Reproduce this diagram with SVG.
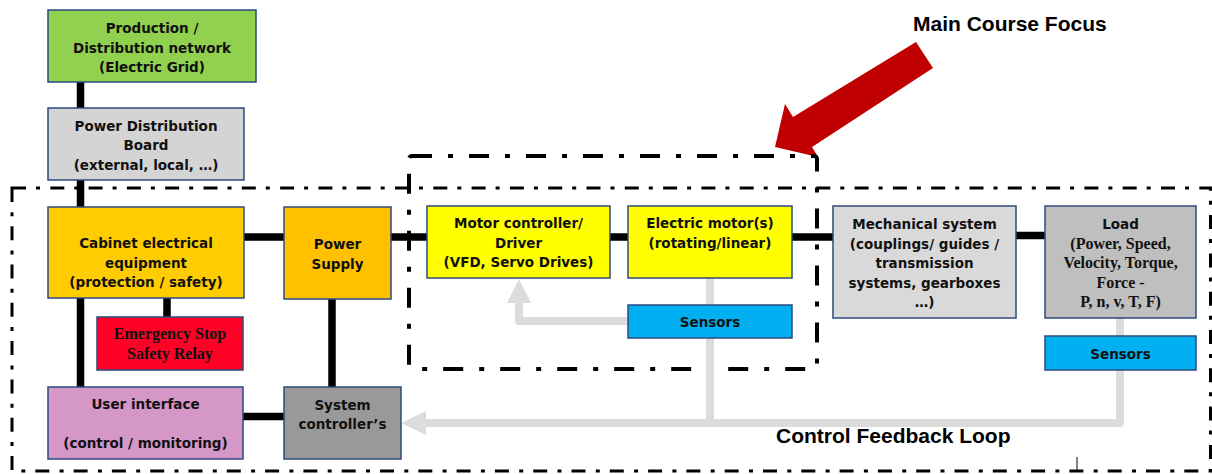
<svg xmlns="http://www.w3.org/2000/svg" width="1212" height="474" viewBox="0 0 1212 474">
<style>
.box{stroke:#2E4A7D;stroke-width:1.5}
.t{font-family:"DejaVu Sans",Verdana,sans-serif;font-weight:bold;font-size:13.5px;fill:#111;text-anchor:middle}
.s{font-family:"Liberation Serif","Times New Roman",serif;font-weight:bold;font-size:16px;fill:#111;text-anchor:middle}
.big{font-family:"Liberation Sans",Arial,sans-serif;font-weight:bold;font-size:21px;fill:#000}
.pw{stroke:#000;stroke-width:7.5;fill:none}
.fb{stroke:#DCDCDC;stroke-width:8;fill:none;stroke-linejoin:round}
.fbh{fill:#DCDCDC}
.outer{fill:none;stroke:#000;stroke-width:3;stroke-dasharray:14 10 4 10.3}
.inner{fill:none;stroke:#000;stroke-width:4;stroke-dasharray:20 16 5 16}
</style>
<rect width="1212" height="474" fill="#fff"/>
<g id="focus-arrow">
<polygon points="916,42 933,68 812,147 818,157 775,147 785,104 793,117" fill="#C00000"/>
</g>
<g id="frames">
<rect class="outer" x="12" y="188" width="1198.5" height="283"/>
<rect class="inner" x="409" y="156" width="408" height="213" rx="3"/>
<line x1="1077" y1="457" x2="1077" y2="470" stroke="#000" stroke-width="1"/>
</g>
<g id="connectors">
<path class="pw" d="M80.5,82 V108 M80.5,180 V207 M80.5,298 V387 M167,298 V317 M244,237 H284 M391,237 H427 M610,237 H628 M792,237 H833 M1016,235.5 H1045 M332,299 V387 M243,416.5 H284"/>
<path class="fb" d="M628,321 H519 V303"/>
<polygon class="fbh" points="507,303 531,303 519,279"/>
<path class="fb" d="M710,278 V423"/>
<path class="fb" d="M1120,318 V423 H426"/>
<polygon class="fbh" points="426,411 426,435 401,423"/>
</g>
<g id="grid">
<rect class="box" x="48" y="10" width="208" height="72" fill="#92D050"/>
<text class="t" x="152" y="33">Production /</text>
<text class="t" x="152" y="52.5">Distribution network</text>
<text class="t" x="152" y="72">(Electric Grid)</text>
</g>
<g id="pdb">
<rect class="box" x="48" y="108" width="196" height="72" fill="#D4D4D4"/>
<text class="t" x="146" y="130.5">Power Distribution</text>
<text class="t" x="146" y="150">Board</text>
<text class="t" x="146" y="169.5">(external, local, …)</text>
</g>
<g id="cabinet">
<rect class="box" x="48" y="207" width="196" height="91" fill="#FFCC00"/>
<text class="t" x="146" y="248">Cabinet electrical</text>
<text class="t" x="146" y="267.5">equipment</text>
<text class="t" x="146" y="287">(protection / safety)</text>
</g>
<g id="power-supply">
<rect class="box" x="284" y="207" width="107" height="92" fill="#FFC000"/>
<text class="t" x="337.5" y="249">Power</text>
<text class="t" x="337.5" y="268.5">Supply</text>
</g>
<g id="emergency-stop">
<rect class="box" x="97" y="317" width="146" height="53" fill="#FF0026"/>
<text class="s" x="170" y="339">Emergency Stop</text>
<text class="s" x="170" y="359">Safety Relay</text>
</g>
<g id="user-interface">
<rect class="box" x="48" y="387" width="195" height="72" fill="#D596C8"/>
<text class="t" x="145.5" y="409">User interface</text>
<text class="t" x="145.5" y="448">(control / monitoring)</text>
</g>
<g id="system-controller">
<rect class="box" x="284" y="387" width="117" height="72" fill="#999999"/>
<text class="t" x="342.5" y="410">System</text>
<text class="t" x="342.5" y="429">controller’s</text>
</g>
<g id="motor-controller">
<rect class="box" x="427" y="206" width="183" height="72" fill="#FFFF00"/>
<text class="t" x="518.5" y="228">Motor controller/</text>
<text class="t" x="518.5" y="247.5">Driver</text>
<text class="t" x="518.5" y="267">(VFD, Servo Drives)</text>
</g>
<g id="electric-motor">
<rect class="box" x="628" y="206" width="164" height="72" fill="#FFFF00"/>
<text class="t" x="710" y="228">Electric motor(s)</text>
<text class="t" x="710" y="247.5">(rotating/linear)</text>
</g>
<g id="sensors-motor">
<rect class="box" x="628" y="305" width="164" height="33" fill="#00B0F0"/>
<text class="t" x="710" y="327">Sensors</text>
</g>
<g id="mechanical">
<rect class="box" x="833" y="206" width="183" height="112" fill="#D9D9D9"/>
<text class="t" x="924.5" y="229">Mechanical system</text>
<text class="t" x="924.5" y="248.5">(couplings/ guides /</text>
<text class="t" x="924.5" y="268">transmission</text>
<text class="t" x="924.5" y="287.5">systems, gearboxes</text>
<text class="t" x="924.5" y="307">…)</text>
</g>
<g id="load">
<rect class="box" x="1045" y="206" width="151" height="112" fill="#BFBFBF"/>
<text class="t" x="1120.5" y="229">Load</text>
<text class="s" x="1120.5" y="249">(Power, Speed,</text>
<text class="s" x="1120.5" y="268">Velocity, Torque,</text>
<text class="s" x="1120.5" y="288">Force -</text>
<text class="s" x="1120.5" y="307">P, n, v, T, F)</text>
</g>
<g id="sensors-load">
<rect class="box" x="1045" y="336" width="151" height="34" fill="#00B0F0"/>
<text class="t" x="1120.5" y="359">Sensors</text>
</g>
<g id="labels">
<text class="big" x="913" y="31">Main Course Focus</text>
<text class="big" x="776" y="443">Control Feedback Loop</text>
</g>
</svg>
